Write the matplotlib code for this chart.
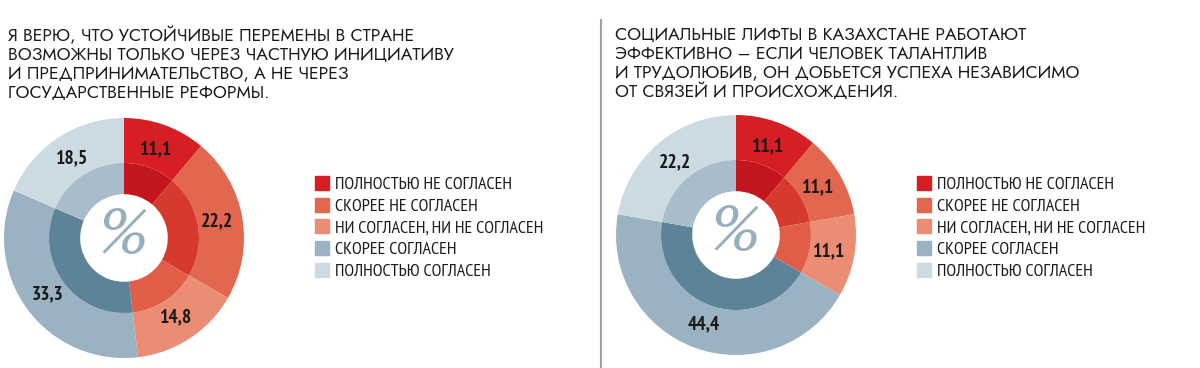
import numpy as np
import matplotlib.pyplot as plt
from matplotlib.patches import Patch

# data
categories = ['ПОЛНОСТЬЮ НЕ СОГЛАСЕН', 'СКОРЕЕ НЕ СОГЛАСЕН', 'НИ СОГЛАСЕН, НИ НЕ СОГЛАСЕН',
              'СКОРЕЕ СОГЛАСЕН', 'ПОЛНОСТЬЮ СОГЛАСЕН']
values_left = [11.1, 22.2, 14.8, 33.3, 18.5]
values_right = [11.1, 11.1, 11.1, 44.4, 22.2]
title_left = ('Я ВЕРЮ, ЧТО УСТОЙЧИВЫЕ ПЕРЕМЕНЫ В СТРАНЕ\n'
              'ВОЗМОЖНЫ ТОЛЬКО ЧЕРЕЗ ЧАСТНУЮ ИНИЦИАТИВУ\n'
              'И ПРЕДПРИНИМАТЕЛЬСТВО, А НЕ ЧЕРЕЗ\n'
              'ГОСУДАРСТВЕННЫЕ РЕФОРМЫ.')
title_right = ('СОЦИАЛЬНЫЕ ЛИФТЫ В КАЗАХСТАНЕ РАБОТАЮТ\n'
               'ЭФФЕКТИВНО – ЕСЛИ ЧЕЛОВЕК ТАЛАНТЛИВ\n'
               'И ТРУДОЛЮБИВ, ОН ДОБЬЕТСЯ УСПЕХА НЕЗАВИСИМО\n'
               'ОТ СВЯЗЕЙ И ПРОИСХОЖДЕНИЯ.')

outer_colors = ['#D81E25', '#E3664F', '#EB8C74', '#9AB2C2', '#CCDAE2']
inner_colors = ['#C4161E', '#D6392D', '#E05E48', '#5C8398', '#A8BCC9']

narrow = ['PT Sans Narrow', 'DejaVu Sans']
W, H = 1200, 368
fig = plt.figure(figsize=(W / 100, H / 100), dpi=100)


def donut(cx, cy, r, values, title, title_x, legend_x):
    ax = fig.add_axes([(cx - r) / W, (H - cy - r) / H, 2 * r / W, 2 * r / H])
    ax.pie(values, radius=1, colors=outer_colors, startangle=90, counterclock=False,
           wedgeprops=dict(width=0.375, linewidth=0))
    ax.pie(values, radius=0.625, colors=inner_colors, startangle=90, counterclock=False,
           wedgeprops=dict(width=0.26, linewidth=0))
    ax.set_xlim(-1, 1)
    ax.set_ylim(-1, 1)
    ax.set_aspect('equal')
    ax.axis('off')

    # value labels in the middle of the outer ring
    cum = np.cumsum([0] + values)
    tot = sum(values)
    for i, v in enumerate(values):
        ang = np.deg2rad(90 - 360 * (cum[i] + v / 2) / tot)
        ax.text(0.79 * np.cos(ang), 0.79 * np.sin(ang), f'{v:.1f}'.replace('.', ','),
                ha='center', va='center', fontsize=14, fontweight='bold',
                family=narrow, color='#1a1a1a')
    ax.text(0, 0.02, '%', ha='center', va='center', fontsize=45,
            family=['PT Serif', 'DejaVu Serif'], style='italic', color='#97AEBD')

    fig.text(title_x / W, 1 - 27 / H, title, ha='left', va='top', fontsize=12.7,
             family=['Jost', 'DejaVu Sans'], color='#1a1a1a', linespacing=1.15)

    handles = [Patch(color=c, label=l) for c, l in zip(outer_colors, categories)]
    fig.legend(handles=handles, loc='upper left',
               bbox_to_anchor=(legend_x / W, 1 - 176 / H), frameon=False,
               prop=dict(family=narrow, size=13), handlelength=0.8, handleheight=0.8,
               handletextpad=0.3, labelspacing=0.25, borderpad=0, borderaxespad=0,
               labelcolor='#1a1a1a')


donut(124, 238, 120, values_left, title_left, 8, 315)
donut(736, 235, 120, values_right, title_right, 615, 917)

# divider between the two charts
fig.add_artist(plt.Line2D([601 / W, 601 / W], [0, 1 - 20 / H], color='#A0A0A0', lw=1.5))

fig.savefig('out.png', dpi=100)
